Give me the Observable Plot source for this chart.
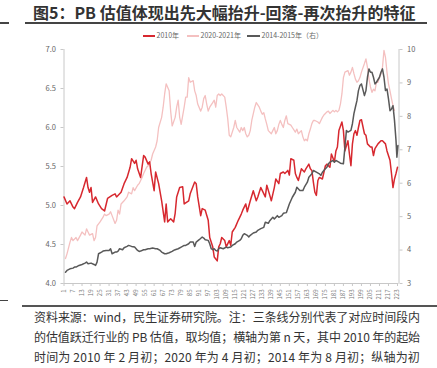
<!DOCTYPE html>
<html><head><meta charset="utf-8">
<script src="https://cdn.jsdelivr.net/npm/d3@7"></script>
<script src="https://cdn.jsdelivr.net/npm/@observablehq/plot@0.6"></script>
<style>
body{margin:0;background:#fff;font-family:"Noto Sans CJK SC","Noto Sans",sans-serif;}
#wrap{position:relative;width:437px;height:368px;overflow:hidden;background:#fff;}
#title{position:absolute;left:33px;top:2px;font-size:16px;font-weight:bold;color:#333;white-space:nowrap;line-height:20px;}
.rule{position:absolute;height:1.5px;background:#444;}
.leg{position:absolute;top:31px;font-size:7px;color:#666;white-space:nowrap;line-height:9px;}
.sw{position:absolute;top:35px;height:1.5px;}
#chart{position:absolute;left:0;top:40px;}
.cap{position:absolute;left:34px;font-size:12px;color:#333;white-space:nowrap;line-height:20px;}
</style></head><body>
<div id="wrap">
  <div id="title">图5：PB 估值体现出先大幅抬升-回落-再次抬升的特征</div>
  <div class="rule" style="left:0;top:22px;width:9px"></div>
  <div class="rule" style="left:25px;top:22px;width:402px"></div>
  <div id="legend"></div>
  <div id="chart"></div>
  <div class="rule" style="left:0;top:300px;width:8px;height:1px"></div>
  <div class="rule" style="left:22px;top:304.5px;width:415px;height:2px;background:#555"></div>
  <div id="caption"></div>
</div>
<script>
// ---- data ----
const seriesNames = ["2010年", "2020-2021年", "2014-2015年（右）"];
const xTicks = d3.range(1, 224, 6);
const leftTicks = [4.0, 4.5, 5.0, 5.5, 6.0, 6.5, 7.0];
const rightTicks = [3, 4, 5, 6, 7, 8, 9, 10];
const captionLines = [
  "资料来源：wind，民生证券研究院。注：三条线分别代表了对应时间段内",
  "的估值跃迁行业的 PB 估值，取均值；横轴为第 n 天，其中 2010 年的起始",
  "时间为 2010 年 2 月初；2020 年为 4 月初；2014 年为 8 月初；纵轴为初"
];
// [day, PB] 2010 (left axis)
const pb2010 = [[1,5.11],[3,5.02],[5,5.06],[7,4.98],[8,4.96],[10,5.04],[12,5.11],[14,5.23],[16,5.36],[17,5.23],[18,5.17],[19,5.23],[20,5.04],[22,5.11],[24,5.02],[26,4.96],[28,4.93],[30,5.09],[33,5.13],[35,5.15],[36,5.11],[39,5.17],[41,5.28],[43,5.36],[45,5.49],[46,5.60],[48,5.54],[49,5.58],[50,5.47],[52,5.36],[54,5.64],[55,5.62],[57,5.53],[58,5.56],[59,5.41],[61,5.19],[62,5.43],[64,5.28],[66,5.06],[68,4.79],[69,5.02],[70,4.79],[72,4.83],[74,4.79],[75,4.90],[76,5.11],[78,5.23],[80,5.24],[81,5.02],[84,5.06],[85,5.15],[88,5.30],[89,5.28],[90,5.11],[92,4.87],[93,4.96],[95,4.94],[97,4.81],[98,4.59],[100,4.47],[101,4.34],[103,4.29],[104,4.47],[105,4.51],[106,4.59],[108,4.55],[109,4.47],[111,4.55],[112,4.49],[113,4.66],[115,4.72],[117,4.81],[119,4.89],[120,4.94],[122,5.02],[123,4.92],[125,5.06],[127,5.19],[129,5.06],[130,5.11],[132,5.23],[133,5.19],[135,5.11],[136,5.26],[138,5.13],[139,5.06],[141,5.23],[142,5.34],[144,5.28],[145,5.41],[147,5.43],[148,5.41],[150,5.45],[151,5.39],[152,5.60],[154,5.58],[155,5.41],[156,5.36],[157,5.32],[159,5.47],[161,5.43],[162,5.47],[164,5.53],[165,5.47],[166,5.45],[167,5.30],[168,5.17],[169,5.13],[170,5.32],[171,5.36],[173,5.34],[175,5.51],[176,5.53],[178,5.49],[179,5.66],[181,5.56],[182,5.70],[183,5.75],[184,5.96],[186,6.07],[187,5.96],[188,5.70],[190,5.83],[191,5.66],[192,5.51],[193,5.79],[194,5.92],[195,5.96],[196,5.90],[197,6.00],[198,6.09],[199,6.10],[201,5.92],[202,5.90],[203,5.79],[205,5.75],[206,5.75],[207,5.64],[208,5.73],[210,5.79],[212,5.83],[213,5.83],[215,5.79],[216,5.70],[218,5.58],[219,5.41],[220,5.23],[221,5.34],[222,5.41],[223,5.49]];
// [day, PB] 2020-2021 (left axis)
const pb2020 = [[2,4.32],[3,4.38],[5,4.53],[6,4.59],[7,4.55],[9,4.59],[10,4.55],[12,4.62],[13,4.66],[15,4.62],[16,4.70],[17,4.66],[18,4.62],[20,4.64],[21,4.55],[22,4.59],[23,4.74],[25,4.79],[27,4.85],[28,4.89],[29,4.87],[31,4.89],[32,4.92],[33,4.87],[35,4.77],[36,4.81],[37,4.94],[38,4.89],[39,5.02],[41,5.06],[43,5.11],[44,5.17],[46,5.15],[47,5.23],[48,5.19],[50,5.26],[51,5.28],[52,5.32],[53,5.36],[54,5.41],[56,5.49],[57,5.51],[59,5.58],[60,5.66],[62,5.75],[63,5.83],[64,6.00],[66,6.13],[67,6.26],[68,6.43],[69,6.56],[71,6.47],[72,6.21],[73,6.02],[75,6.13],[76,6.26],[77,6.35],[78,6.13],[79,6.04],[81,6.26],[82,6.39],[83,6.39],[84,6.64],[85,6.58],[87,6.60],[88,6.47],[89,6.41],[90,6.30],[92,6.21],[93,6.26],[94,6.37],[95,6.41],[96,6.30],[97,6.21],[98,6.26],[100,6.32],[101,6.35],[102,6.26],[103,6.41],[104,6.43],[105,6.41],[106,6.43],[108,6.39],[109,6.26],[110,6.11],[111,5.90],[112,5.88],[114,6.00],[115,6.09],[116,6.00],[118,5.94],[119,6.00],[120,5.96],[121,6.00],[122,5.92],[123,5.88],[124,5.90],[125,5.96],[126,6.09],[128,6.26],[129,6.32],[131,6.26],[132,6.21],[133,6.17],[134,6.19],[135,6.11],[136,6.04],[137,5.96],[139,5.92],[140,5.96],[141,6.00],[142,5.92],[143,5.96],[144,6.04],[145,6.09],[146,6.04],[147,6.00],[148,6.09],[149,6.15],[150,6.05],[152,6.03],[153,6.00],[155,5.94],[156,5.98],[157,5.92],[159,5.96],[160,5.88],[161,5.83],[162,5.85],[163,5.83],[164,5.92],[165,5.98],[166,6.05],[167,6.09],[168,6.09],[170,6.07],[171,6.05],[172,6.09],[173,6.13],[174,6.16],[175,6.18],[176,6.20],[177,6.21],[178,6.18],[180,6.22],[181,6.20],[182,6.22],[183,6.20],[184,6.22],[185,6.30],[186,6.43],[187,6.64],[188,6.71],[190,6.73],[191,6.67],[192,6.71],[193,6.77],[194,6.69],[195,6.62],[196,6.58],[197,6.60],[198,6.64],[199,6.71],[201,6.82],[202,6.88],[203,6.77],[204,6.62],[205,6.52],[206,6.45],[207,6.49],[208,6.47],[209,6.58],[210,6.58],[211,6.64],[212,6.69],[213,6.77],[214,6.99],[215,6.90],[216,6.71],[217,6.56],[218,6.47],[219,6.37],[220,6.28],[221,6.22]];
// [day, PB] 2014-2015 (right axis)
const pb2014 = [[2,3.34],[3,3.39],[5,3.44],[7,3.46],[8,3.49],[9,3.49],[11,3.54],[13,3.57],[15,3.61],[16,3.64],[17,3.59],[19,3.61],[21,3.57],[22,3.54],[23,3.64],[24,3.89],[26,3.94],[27,3.97],[29,3.99],[31,3.99],[32,4.04],[33,3.89],[35,3.94],[36,3.94],[37,3.97],[38,4.04],[40,4.01],[41,4.07],[43,4.11],[44,4.14],[46,4.11],[48,4.09],[49,4.04],[50,3.99],[51,3.96],[52,3.97],[54,4.01],[55,4.01],[57,4.04],[58,4.04],[60,4.06],[62,4.04],[63,4.04],[65,3.99],[66,3.94],[68,3.89],[69,3.89],[71,3.92],[73,3.96],[74,3.99],[75,4.01],[77,4.04],[79,4.09],[81,4.14],[82,4.14],[84,4.19],[85,4.24],[87,4.24],[88,4.11],[89,4.24],[91,4.31],[93,4.39],[94,4.36],[95,4.31],[97,4.29],[98,4.19],[99,4.04],[100,4.01],[101,4.04],[102,3.99],[103,3.97],[104,4.04],[105,4.07],[107,4.04],[109,4.09],[110,4.07],[112,4.09],[113,4.14],[115,4.19],[116,4.24],[118,4.29],[119,4.34],[120,4.44],[121,4.49],[123,4.44],[124,4.39],[125,4.44],[127,4.51],[129,4.54],[130,4.59],[132,4.64],[134,4.68],[135,4.83],[137,4.80],[138,4.88],[140,4.98],[141,4.93],[143,5.03],[144,4.98],[146,5.03],[147,5.10],[149,5.12],[151,5.38],[153,5.58],[155,5.73],[156,5.88],[158,5.78],[160,5.78],[161,5.88],[163,6.03],[164,6.18],[166,6.28],[167,6.38],[169,6.33],[171,6.28],[172,6.23],[173,6.33],[175,6.43],[176,6.48],[177,6.58],[178,6.63],[180,6.68],[181,6.63],[182,6.68],[184,6.63],[185,6.60],[187,6.58],[188,7.08],[189,7.58],[190,7.53],[192,7.58],[193,7.78],[194,8.08],[195,8.28],[196,8.47],[197,8.77],[198,8.92],[199,8.97],[201,8.62],[202,8.77],[203,9.17],[204,9.42],[205,9.32],[206,9.32],[207,9.17],[208,8.97],[209,9.02],[211,9.17],[212,9.32],[213,9.42],[214,9.17],[215,8.77],[216,8.82],[217,8.52],[218,8.17],[219,8.22],[220,8.32],[221,7.88],[222,7.28],[222.6,6.78],[223.3,7.13]];

const colors = ["#d7282f", "#f4c0c0", "#595959"];

// secondary axis mapping: right [3,10] -> left [4,7]
const toLeft = r => 4 + (r - 3) * 3 / 7;
const toRight = l => 3 + (l - 4) * 7 / 3;

const font = '"Noto Sans CJK SC","Noto Sans",sans-serif';
const chart = Plot.plot({
  width: 437, height: 265,
  marginTop: 9, marginBottom: 22, marginLeft: 63.5, marginRight: 38.5,
  style: {fontFamily: font, background: "transparent", color: "#666"},
  x: {domain: [1, 224]},
  y: {domain: [4, 7]},
  marks: [
    Plot.ruleX([1, 224], {stroke: "#c8c8c8", strokeWidth: 1}),
    Plot.ruleY([4], {stroke: "#c8c8c8", strokeWidth: 1}),
    Plot.axisY(leftTicks, {anchor: "left", tickSize: 3, tickPadding: 5, fontSize: 7.5,
      tickFormat: d3.format(".1f"), stroke: "#c8c8c8", fill: "#666", label: null}),
    Plot.axisY(rightTicks.map(toLeft), {anchor: "right", tickSize: 3, tickPadding: 5, fontSize: 7.5,
      tickFormat: d => String(Math.round(toRight(d))), stroke: "#c8c8c8", fill: "#666", label: null}),
    Plot.axisX(xTicks, {anchor: "bottom", tickSize: 3, tickPadding: 3, fontSize: 6, tickRotate: -90,
      stroke: "#c8c8c8", fill: "#777", label: null}),
    Plot.line(pb2020, {x: d => d[0], y: d => d[1], stroke: colors[1], strokeWidth: 1.3}),
    Plot.line(pb2010, {x: d => d[0], y: d => d[1], stroke: colors[0], strokeWidth: 1.5}),
    Plot.line(pb2014, {x: d => d[0], y: d => toLeft(d[1]), stroke: colors[2], strokeWidth: 1.5})
  ]
});
document.getElementById("chart").appendChild(chart);

// legend
const legendPos = [[142.5, 156.5], [186.5, 200.5], [247, 261.5]];
const leg = document.getElementById("legend");
seriesNames.forEach((name, i) => {
  const sw = document.createElement("div");
  sw.className = "sw";
  sw.style.left = legendPos[i][0] + "px";
  sw.style.width = "12.5px";
  sw.style.background = colors[i];
  leg.appendChild(sw);
  const t = document.createElement("div");
  t.className = "leg";
  t.style.left = legendPos[i][1] + "px";
  t.textContent = name;
  leg.appendChild(t);
});

// caption: each line fitted to the reference's line width
const cap = document.getElementById("caption");
const capWidth = 386;
captionLines.forEach((line, i) => {
  const d = document.createElement("div");
  d.className = "cap";
  d.style.top = (307 + i * 20) + "px";
  d.textContent = line;
  cap.appendChild(d);
  const w = d.getBoundingClientRect().width;
  const n = [...line].length;
  if (n > 1) d.style.letterSpacing = ((capWidth - w) / n) + "px";
});
</script>
</body></html>
